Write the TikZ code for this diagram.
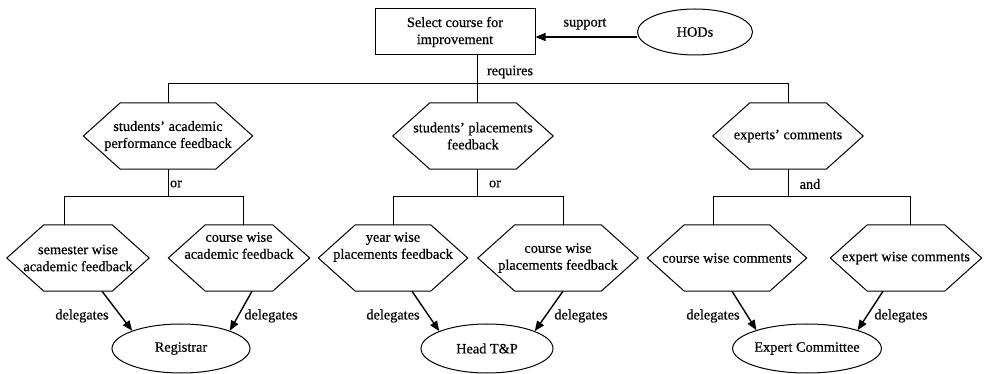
\documentclass[tikz,border=0pt]{standalone}
\usepackage{fontspec}
\setmainfont[FakeBold=0.5]{Liberation Serif}
\usetikzlibrary{shapes.geometric,arrows.meta,calc}
\newcommand\hexdraw[1]{\draw[ln] (#1.west) -- ([xshift=37pt]#1.north west) -- ([xshift=-37pt]#1.north east) -- (#1.east) -- ([xshift=-37pt]#1.south east) -- ([xshift=37pt]#1.south west) -- cycle;}
\begin{document}
\begin{tikzpicture}[x=1pt,y=-1pt,
  every node/.style={font=\fontsize{14.3}{17}\selectfont, inner sep=0pt},
  ln/.style={line width=1pt},
  arr/.style={line width=1.4pt, -{Triangle[length=10pt,width=8pt]}},
  hexa/.style={rectangle, minimum height=66pt, align=center},
  boxa/.style={draw, line width=1pt, rectangle, minimum width=160pt,
    minimum height=46pt, align=center},
  ell/.style={draw, line width=1pt, ellipse, minimum height=49pt},
  lbl/.style={}
]
\useasboundingbox (0,0) rectangle (986,374);

% top
\node[boxa] (top) at (455,32) {Select course for\\improvement};
\node[ell, minimum width=115pt, minimum height=46pt] (hods) at (695,32) {HODs};
\draw[arr] ([yshift=-5pt]hods.west) -- ([yshift=-5pt]top.east);
\node[lbl] (sup) at (585,24) {support};

% level 1
\node[hexa, minimum width=169pt] (h1) at (168,136) {students’ academic\\performance feedback};
\node[hexa, minimum width=160pt] (h2) at (473,136) {students’ placements\\feedback};
\node[hexa, minimum width=150pt] (h3) at (788,136) {experts’ comments};
\hexdraw{h1}\hexdraw{h2}\hexdraw{h3}

\coordinate (bus) at (477,84);
\draw[ln] (top.south -| bus) -- (bus |- h2.north);
\draw[ln] (h1.north) -- (h1.north |- bus) -- (h3.north |- bus) -- (h3.north);
\node[lbl] (req) at (510,72) {requires};

% level 2
\node[hexa, minimum width=142pt] (c1) at (78,258) {semester wise\\academic feedback};
\node[hexa, minimum width=141pt] (c2) at (239,258) {course wise\\academic feedback\\[8pt]};
\node[hexa, minimum width=149pt] (c3) at (393,258) {year wise\\placements feedback\\[8pt]};
\node[hexa, minimum width=160pt] (c4) at (558,258) {course wise\\placements feedback};
\node[hexa, minimum width=159pt] (c5) at (727,258) {course wise comments};
\node[hexa, minimum width=151pt] (c6) at (906,258) {expert wise comments};
\hexdraw{c1}\hexdraw{c2}\hexdraw{c3}\hexdraw{c4}\hexdraw{c5}\hexdraw{c6}

\coordinate (b1l) at (64,197);  \coordinate (b1r) at (243,197);
\coordinate (b2l) at (393,197); \coordinate (b2r) at (563,197);
\coordinate (b3l) at (713,197); \coordinate (b3r) at (910,197);

\draw[ln] (h1.south) -- (h1.south |- b1l);
\draw[ln] (c1.north -| b1l) -- (b1l) -- (b1r) -- (c2.north -| b1r);
\draw[ln] (h2.south -| bus) -- (bus |- b2l);
\draw[ln] (c3.north -| b2l) -- (b2l) -- (b2r) -- (c4.north -| b2r);
\draw[ln] (h3.south) -- (h3.south |- b3l);
\draw[ln] (c5.north -| b3l) -- (b3l) -- (b3r) -- (c6.north -| b3r);

\node[lbl] (or1) at (176,184) {or};
\node[lbl] (or2) at (495,184) {or};
\node[lbl] (and) at (810,184) {and};

% level 3
\node[ell, minimum width=138pt] (reg) at (181,348.5) {Registrar};
\node[ell, minimum width=132pt] (htp) at (487,348.5) {Head T\&P};
\node[ell, minimum width=132pt] (ec) at (807,348.5) {Expert Committee};

\draw[arr] (c1.south -| 102,0) -- (reg.160);
\draw[arr] (c2.south -| 252,0) -- (reg.20);
\draw[arr] (c3.south -| 412,0) -- (htp.160);
\draw[arr] (c4.south -| 563,0) -- (htp.20);
\draw[arr] (c5.south -| 732,0) -- (ec.160);
\draw[arr] (c6.south -| 883,0) -- (ec.20);

\node[lbl] (d1) at (82,316) {delegates};
\node[lbl] (d2) at (271,316) {delegates};
\node[lbl] (d3) at (393,316) {delegates};
\node[lbl] (d4) at (581,316) {delegates};
\node[lbl] (d5) at (713,316) {delegates};
\node[lbl] (d6) at (901,316) {delegates};
\end{tikzpicture}
\end{document}
